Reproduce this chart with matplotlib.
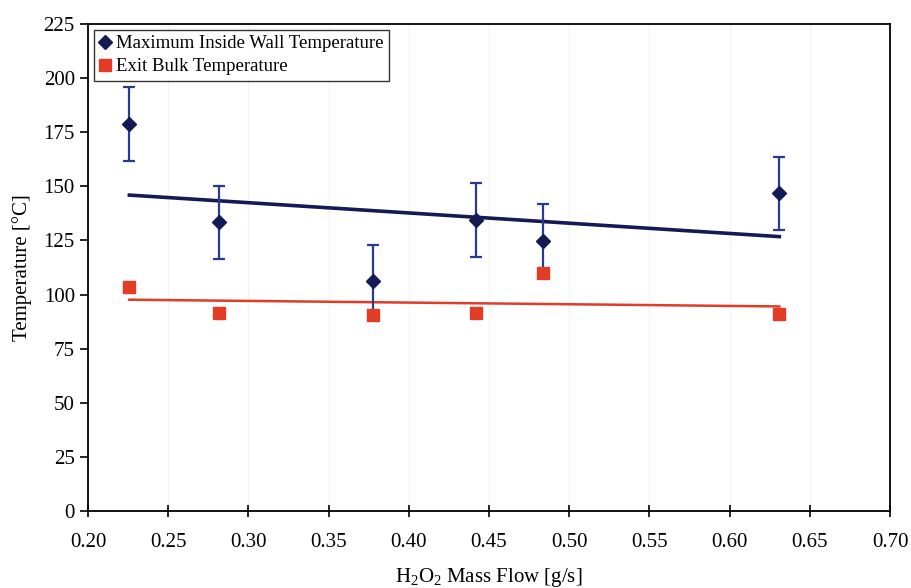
import numpy as np
import matplotlib
matplotlib.use("Agg")
import matplotlib.pyplot as plt

plt.rcParams['font.family'] = ['Liberation Serif', 'DejaVu Serif']
plt.rcParams['mathtext.fontset'] = 'custom'
plt.rcParams['mathtext.rm'] = 'Liberation Serif'
plt.rcParams['mathtext.default'] = 'rm'

# data
flow = [0.2258, 0.2819, 0.3779, 0.4417, 0.4835, 0.631]
wall_temp = [178.8, 133.4, 106.1, 134.5, 124.8, 146.8]
wall_err = [17, 17, 17, 17, 17, 17]
bulk_temp = [103.4, 91.3, 90.6, 91.4, 109.8, 91.0]
x_ticks = [0.20, 0.25, 0.30, 0.35, 0.40, 0.45, 0.50, 0.55, 0.60, 0.65, 0.70]
y_ticks = [0, 25, 50, 75, 100, 125, 150, 175, 200, 225]

navy = '#141a55'
bar_blue = '#2a3a8e'
red = '#e23b26'

fig = plt.figure(figsize=(9.11, 5.88), dpi=100)
ax = fig.add_axes([0.0966, 0.131, 0.8804, 0.828])

# linear trend lines
xs = np.array([min(flow), max(flow)])
p = np.polyfit(flow, wall_temp, 1)
ax.plot(xs, np.polyval(p, xs), color=navy, lw=2.6, zorder=2)
p = np.polyfit(flow, bulk_temp, 1)
ax.plot(xs, np.polyval(p, xs), color=red, lw=1.8, zorder=2)

ax.errorbar(flow, wall_temp, yerr=wall_err, fmt='none', ecolor=bar_blue,
            elinewidth=1.6, capsize=4.5, capthick=1.6, zorder=3)
ax.plot(flow, wall_temp, 'D', color=navy, ms=7.5, zorder=4,
        label='Maximum Inside Wall Temperature')
ax.plot(flow, bulk_temp, 's', color=red, ms=8, zorder=4,
        label='Exit Bulk Temperature')

ax.set_xlim(0.20, 0.70)
ax.set_ylim(0, 225)
ax.set_xticks(x_ticks)
ax.set_xticklabels(['%.2f' % v for v in x_ticks])
ax.set_yticks(y_ticks)
ax.tick_params(axis='both', labelsize=15, width=1.2)
ax.tick_params(axis='x', direction='inout', length=8, pad=12)
ax.tick_params(axis='y', direction='out', length=6)
ax.grid(axis='x', color='#f3f4f9', lw=1.0)
for s in ax.spines.values():
    s.set_linewidth(1.3)

ax.set_xlabel(r'H$_2$O$_2$ Mass Flow [g/s]', fontsize=15, labelpad=10)
ax.set_ylabel('Temperature [°C]', fontsize=15, labelpad=8)

leg = ax.legend(loc='upper left', fontsize=13.5, frameon=True, fancybox=False,
                edgecolor='black', handlelength=0.6, handletextpad=0.3,
                borderaxespad=0.3, borderpad=0.3, labelspacing=0.3,
                numpoints=1)
leg.get_frame().set_linewidth(1.0)

fig.savefig('out.png', dpi=100)
